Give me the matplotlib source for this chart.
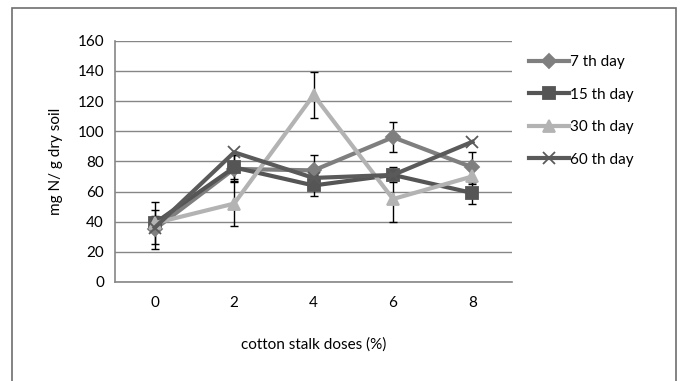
import matplotlib
matplotlib.use("Agg")
import matplotlib.pyplot as plt
from matplotlib.lines import Line2D
from matplotlib.patches import Rectangle

plt.rcParams['font.family'] = ['Lato', 'DejaVu Sans']

doses = ['0', '2', '4', '6', '8']

day7 = [35, 75, 74, 96, 76]
day7_err = [13, 9, 10, 10, 10]
day15 = [39, 76, 64, 71, 59]
day15_err = [5, 8, 7, 5, 7]
day30 = [39, 52, 124, 55, 70]
day30_err = [14, 15, 15, 15, 5]
day60 = [36, 86, 69, 71, 93]

labels = ['7 th day', '15 th day', '30 th day', '60 th day']
colors = ['#7f7f7f', '#555555', '#b3b3b3', '#5a5a5a']
markers = ['D', 's', '^', 'x']
sizes = [7, 8, 8, 9]

fig = plt.figure(figsize=(6.81, 3.81), dpi=100)
ax = fig.add_axes([0.169, 0.26, 0.583, 0.633])

x = list(range(len(doses)))
grid_col = '#868686'

series = [(day7, day7_err), (day15, day15_err), (day30, day30_err), (day60, None)]
for i, (vals, err) in enumerate(series):
    if err is not None:
        ax.errorbar(x, vals, yerr=err, fmt='none', ecolor='black', elinewidth=1,
                    capsize=3, zorder=2)
    ax.plot(x, vals, color=colors[i], lw=3, marker=markers[i], ms=sizes[i],
            mew=1.3, zorder=3 + i)

ax.set_xlim(-0.5, len(doses) - 0.5)
ax.set_ylim(0, 160)
ax.set_yticks(range(0, 161, 20))
ax.set_xticks(x)
ax.set_xticklabels(doses)
ax.yaxis.grid(True, color=grid_col, lw=1)
ax.set_axisbelow(True)
ax.tick_params(length=0, labelsize=11, colors='black', pad=8)
ax.tick_params(axis='x', pad=10)
for s in ['top', 'right']:
    ax.spines[s].set_visible(False)
for s in ['left', 'bottom']:
    ax.spines[s].set_color(grid_col)
    ax.spines[s].set_linewidth(1.2)

ax.set_ylabel('mg N/ g dry soil', fontsize=11, labelpad=10)
ax.set_xlabel('cotton stalk doses (%)', fontsize=11, labelpad=20)

handles = [Line2D([], [], color=colors[i], lw=3, marker=markers[i], ms=sizes[i], mew=1.3)
           for i in range(4)]
ax.legend(handles, labels, loc='upper left', bbox_to_anchor=(0.768, 0.872),
          bbox_transform=fig.transFigure, frameon=False, fontsize=11,
          handlelength=2.6, handletextpad=0.1, labelspacing=1.22, borderaxespad=0)

fig.patches.append(Rectangle((12 / 681, -0.1), 664 / 681, 1 - 8 / 381 + 0.1,
                             transform=fig.transFigure, fill=False,
                             edgecolor='#6e6e6e', lw=1.2))

fig.savefig('out.png', dpi=100)
